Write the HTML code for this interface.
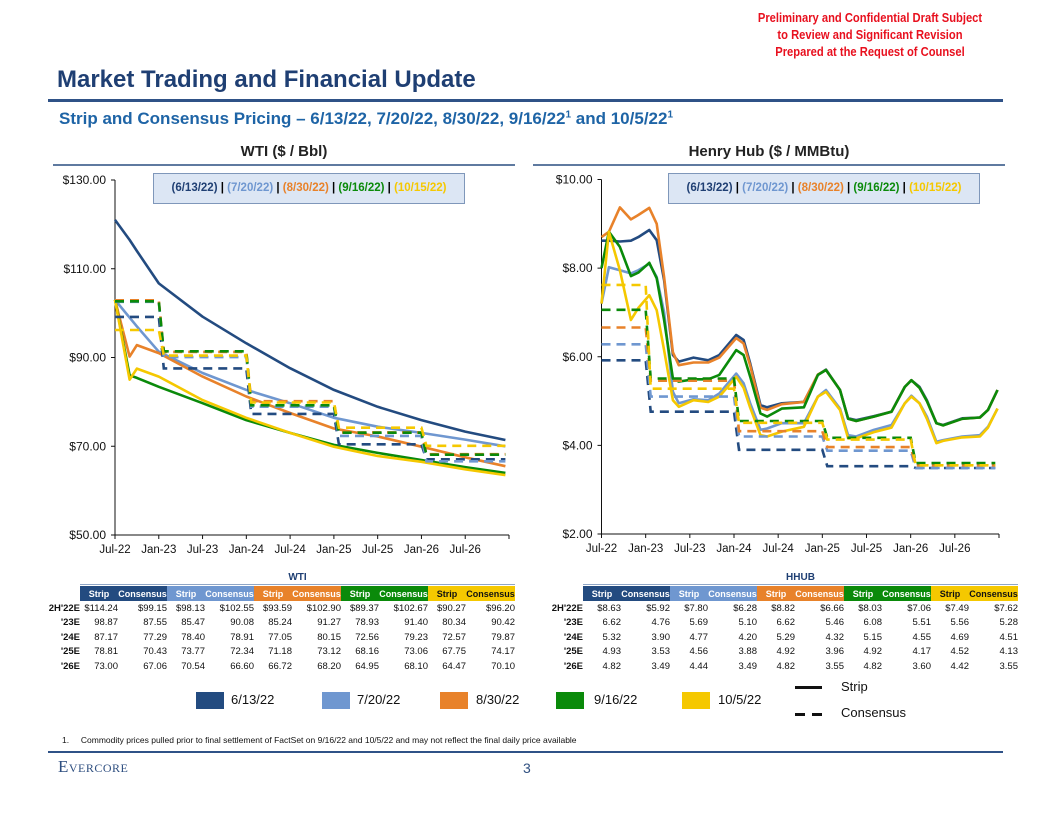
<!DOCTYPE html>
<html><head><meta charset="utf-8"><style>
body{margin:0;width:1056px;height:816px;background:#fff;position:relative;overflow:hidden;font-family:"Liberation Sans",Arial,sans-serif}
.abs{position:absolute}
.red{color:#E8101E;font-weight:bold;font-size:13px;text-align:center;width:340px;left:700px;line-height:17px;top:9px;white-space:nowrap;transform:scaleX(0.86);transform-origin:170px 0}
.title{left:57px;top:66px;font-size:24px;font-weight:bold;color:#1F3F73}
.sub{left:59px;top:109px;font-size:17px;font-weight:bold;color:#1E64A6}
.ct{font-size:15px;font-weight:bold;color:#222;text-align:center}
table{border-collapse:collapse;font-size:9.5px;color:#111;table-layout:fixed}
td{padding:0;height:14.5px;text-align:right;overflow:hidden;white-space:nowrap}
th{font-weight:bold;color:#fff;height:15px;padding:0;font-size:9px;white-space:nowrap;overflow:hidden}
.lbl{text-align:right;font-weight:bold}
.tt{font-size:10px;font-weight:bold;color:#1F3F73;text-align:center}
.leg{font-size:13px;color:#111}
</style></head><body>
<div class="abs red">Preliminary and Confidential Draft Subject<br>to Review and Significant Revision<br>Prepared at the Request of Counsel</div>
<div class="abs title">Market Trading and Financial Update</div>
<div class="abs" style="left:48px;top:99px;width:955px;height:3px;background:#2F5287"></div>
<div class="abs sub">Strip and Consensus Pricing – 6/13/22, 7/20/22, 8/30/22, 9/16/22<sup style="font-size:10px">1</sup> and 10/5/22<sup style="font-size:10px">1</sup></div>
<div class="abs ct" style="left:53px;width:462px;top:143px">WTI ($ / Bbl)</div>
<div class="abs" style="left:53px;top:164px;width:462px;height:2px;background:#5F7AA0"></div>
<div class="abs ct" style="left:533px;width:472px;top:143px">Henry Hub ($ / MMBtu)</div>
<div class="abs" style="left:533px;top:164px;width:472px;height:2px;background:#5F7AA0"></div>

<svg class="abs" style="left:0;top:0" width="1056" height="816" id="charts">
<g id="wti"></g>
<g id="hh"></g>
</svg>

<div class="abs" style="left:153px;top:173px;width:310px;height:29px;background:#DCE6F4;border:1px solid #7F97BA;font-size:11.5px;font-weight:bold;text-align:center;line-height:29px"><span style="color:#1F3F73">(6/13/22)</span> | <span style="color:#6F97D0">(7/20/22)</span> | <span style="color:#E8822A">(8/30/22)</span> | <span style="color:#0A8A0A">(9/16/22)</span> | <span style="color:#F5C800">(10/15/22)</span></div>
<div class="abs" style="left:668px;top:173px;width:310px;height:29px;background:#DCE6F4;border:1px solid #7F97BA;font-size:11.5px;font-weight:bold;text-align:center;line-height:29px"><span style="color:#1F3F73">(6/13/22)</span> | <span style="color:#6F97D0">(7/20/22)</span> | <span style="color:#E8822A">(8/30/22)</span> | <span style="color:#0A8A0A">(9/16/22)</span> | <span style="color:#F5C800">(10/15/22)</span></div>

<div class="abs tt" style="left:80px;width:435px;top:572px">WTI</div>
<div class="abs" style="left:80px;top:584px;width:435px;height:1px;background:#8FA6C6"></div>
<table class="abs" style="left:42px;top:586px;width:473px">
<colgroup><col style="width:38px"><col style="width:38px"><col style="width:49px"><col style="width:38px"><col style="width:49px"><col style="width:38px"><col style="width:49px"><col style="width:38px"><col style="width:49px"><col style="width:38px"><col style="width:49px"></colgroup>
<tr><th></th><th style="background:#234B80">Strip</th><th style="background:#234B80">Consensus</th><th style="background:#6F97D0">Strip</th><th style="background:#6F97D0">Consensus</th><th style="background:#E8822A">Strip</th><th style="background:#E8822A">Consensus</th><th style="background:#0A8A0A">Strip</th><th style="background:#0A8A0A">Consensus</th><th style="background:#F5C800;color:#111">Strip</th><th style="background:#F5C800;color:#111">Consensus</th></tr>
<tr><td class="lbl">2H'22E</td><td>$114.24</td><td>$99.15</td><td>$98.13</td><td>$102.55</td><td>$93.59</td><td>$102.90</td><td>$89.37</td><td>$102.67</td><td>$90.27</td><td>$96.20</td></tr>
<tr><td class="lbl">'23E</td><td>98.87</td><td>87.55</td><td>85.47</td><td>90.08</td><td>85.24</td><td>91.27</td><td>78.93</td><td>91.40</td><td>80.34</td><td>90.42</td></tr>
<tr><td class="lbl">'24E</td><td>87.17</td><td>77.29</td><td>78.40</td><td>78.91</td><td>77.05</td><td>80.15</td><td>72.56</td><td>79.23</td><td>72.57</td><td>79.87</td></tr>
<tr><td class="lbl">'25E</td><td>78.81</td><td>70.43</td><td>73.77</td><td>72.34</td><td>71.18</td><td>73.12</td><td>68.16</td><td>73.06</td><td>67.75</td><td>74.17</td></tr>
<tr><td class="lbl">'26E</td><td>73.00</td><td>67.06</td><td>70.54</td><td>66.60</td><td>66.72</td><td>68.20</td><td>64.95</td><td>68.10</td><td>64.47</td><td>70.10</td></tr>
</table>

<div class="abs tt" style="left:583px;width:435px;top:572px">HHUB</div>
<div class="abs" style="left:583px;top:584px;width:435px;height:1px;background:#8FA6C6"></div>
<table class="abs" style="left:545px;top:586px;width:473px">
<colgroup><col style="width:38px"><col style="width:38px"><col style="width:49px"><col style="width:38px"><col style="width:49px"><col style="width:38px"><col style="width:49px"><col style="width:38px"><col style="width:49px"><col style="width:38px"><col style="width:49px"></colgroup>
<tr><th></th><th style="background:#234B80">Strip</th><th style="background:#234B80">Consensus</th><th style="background:#6F97D0">Strip</th><th style="background:#6F97D0">Consensus</th><th style="background:#E8822A">Strip</th><th style="background:#E8822A">Consensus</th><th style="background:#0A8A0A">Strip</th><th style="background:#0A8A0A">Consensus</th><th style="background:#F5C800;color:#111">Strip</th><th style="background:#F5C800;color:#111">Consensus</th></tr>
<tr><td class="lbl">2H'22E</td><td>$8.63</td><td>$5.92</td><td>$7.80</td><td>$6.28</td><td>$8.82</td><td>$6.66</td><td>$8.03</td><td>$7.06</td><td>$7.49</td><td>$7.62</td></tr>
<tr><td class="lbl">'23E</td><td>6.62</td><td>4.76</td><td>5.69</td><td>5.10</td><td>6.62</td><td>5.46</td><td>6.08</td><td>5.51</td><td>5.56</td><td>5.28</td></tr>
<tr><td class="lbl">'24E</td><td>5.32</td><td>3.90</td><td>4.77</td><td>4.20</td><td>5.29</td><td>4.32</td><td>5.15</td><td>4.55</td><td>4.69</td><td>4.51</td></tr>
<tr><td class="lbl">'25E</td><td>4.93</td><td>3.53</td><td>4.56</td><td>3.88</td><td>4.92</td><td>3.96</td><td>4.92</td><td>4.17</td><td>4.52</td><td>4.13</td></tr>
<tr><td class="lbl">'26E</td><td>4.82</td><td>3.49</td><td>4.44</td><td>3.49</td><td>4.82</td><td>3.55</td><td>4.82</td><td>3.60</td><td>4.42</td><td>3.55</td></tr>
</table>

<div class="abs" style="left:196px;top:692px;width:28px;height:17px;background:#234B80"></div>
<div class="abs leg" style="left:231px;top:692px">6/13/22</div>
<div class="abs" style="left:322px;top:692px;width:28px;height:17px;background:#6F97D0"></div>
<div class="abs leg" style="left:357px;top:692px">7/20/22</div>
<div class="abs" style="left:440px;top:692px;width:28px;height:17px;background:#E8822A"></div>
<div class="abs leg" style="left:476px;top:692px">8/30/22</div>
<div class="abs" style="left:556px;top:692px;width:28px;height:17px;background:#0A8A0A"></div>
<div class="abs leg" style="left:594px;top:692px">9/16/22</div>
<div class="abs" style="left:682px;top:692px;width:28px;height:17px;background:#F5C800"></div>
<div class="abs leg" style="left:718px;top:692px">10/5/22</div>
<div class="abs" style="left:795px;top:686px;width:27px;height:3px;background:#111"></div>
<div class="abs leg" style="left:841px;top:679px">Strip</div>
<div class="abs" style="left:795px;top:713px;width:10px;height:3px;background:#111"></div>
<div class="abs" style="left:812px;top:713px;width:10px;height:3px;background:#111"></div>
<div class="abs leg" style="left:841px;top:705px">Consensus</div>

<div class="abs" style="left:62px;top:735px;font-size:8.5px;color:#111">1.&nbsp;&nbsp;&nbsp;&nbsp;&nbsp;Commodity prices pulled prior to final settlement of FactSet on 9/16/22 and 10/5/22 and may not reflect the final daily price available</div>
<div class="abs" style="left:48px;top:751px;width:955px;height:2px;background:#2F5287"></div>
<div class="abs" style="left:58px;top:757px;font-family:'Liberation Serif',serif;font-size:17px;color:#2F4F80;font-variant:small-caps;letter-spacing:.5px">Evercore</div>
<div class="abs" style="left:523px;top:760px;font-size:14px;color:#2F4F80">3</div>

<script>
// ---- WTI data ----
const wtiMonths = [0,2,3,6,12,18,24,30,36,42,48,53.5];
const wtiStrip0613 = [121,116.5,114,106.7,99.2,93.2,87.6,82.7,78.9,75.9,73.3,71.4];
const wtiStrip0720 = [103,99,97,91.3,86.5,82.7,79.7,76.4,74.4,73,71.5,70];
const wtiStrip0830 = [103,90.2,92.8,91,85.7,81.2,77.5,74,72.2,69.9,67.5,65.5];
const wtiStrip0916 = [103,86,85.4,83.4,79.7,75.9,73,70.3,68.5,66.9,65.3,64];
const wtiStrip1005 = [103,85,87.5,85.7,80.4,76.4,73,69.9,67.8,66.5,64.8,63.5];
const wtiCons0613 = [99.15,87.55,77.29,70.43,67.06];
const wtiCons0720 = [102.55,90.08,78.91,72.34,66.60];
const wtiCons0830 = [102.90,91.27,80.15,73.12,68.20];
const wtiCons0916 = [102.67,91.40,79.23,73.06,68.10];
const wtiCons1005 = [96.20,90.42,79.87,74.17,70.10];
const wtiTicks = ["$50.00","$70.00","$90.00","$110.00","$130.00"];
const wtiTickVals = [50,70,90,110,130];
// ---- Henry Hub data ----
const hhMonths = [0,1,2.5,4,5,6.5,7.5,8.5,9.7,10.5,12.5,14.5,16,18.3,19.3,20.2,21.6,22.5,24.5,27.5,29.4,30.5,32.4,33.5,34.6,37,39.4,41.2,42.1,43.2,44.2,45.5,46.4,49,51.4,52.5,53.8];
const hhStrip0613 = [8.62,8.62,8.6,8.62,8.7,8.86,8.63,7.73,6.04,5.89,5.98,5.92,6.04,6.49,6.38,5.85,4.91,4.86,4.95,4.98,5.59,5.71,5.25,4.61,4.57,4.66,4.76,5.32,5.47,5.32,5.02,4.5,4.46,4.61,4.63,4.8,5.25];
const hhStrip0720 = [7.2,8.02,7.95,7.88,7.95,8.1,7.8,7.0,5.21,4.95,5.04,5.02,5.17,5.62,5.4,4.95,4.35,4.38,4.5,4.5,5.1,5.25,4.83,4.23,4.2,4.35,4.46,4.95,5.12,4.95,4.65,4.08,4.12,4.2,4.23,4.42,4.83];
const hhStrip0830 = [8.7,8.82,9.37,9.1,9.2,9.36,9.0,7.8,6.1,5.81,5.87,5.87,5.98,6.42,6.3,5.8,4.85,4.8,4.93,4.98,5.6,5.7,5.25,4.6,4.55,4.65,4.76,5.32,5.47,5.3,5.0,4.5,4.45,4.6,4.63,4.8,5.25];
const hhStrip0916 = [8.0,8.82,8.48,7.82,7.9,8.12,7.77,6.83,5.51,5.44,5.49,5.49,5.59,6.15,6.04,5.55,4.72,4.65,4.83,4.86,5.59,5.7,5.25,4.6,4.55,4.65,4.76,5.32,5.47,5.3,5.0,4.5,4.45,4.6,4.63,4.8,5.25];
const hhStrip1005 = [7.2,8.82,7.95,6.83,7.1,7.39,7.05,6.15,5.02,4.87,5.02,4.98,5.1,5.55,5.3,4.85,4.23,4.2,4.31,4.42,5.1,5.21,4.8,4.16,4.16,4.3,4.4,4.95,5.1,4.95,4.6,4.05,4.1,4.18,4.2,4.4,4.83];
const hhCons0613 = [5.92,4.76,3.90,3.53,3.49];
const hhCons0720 = [6.28,5.10,4.20,3.88,3.49];
const hhCons0830 = [6.66,5.46,4.32,3.96,3.55];
const hhCons0916 = [7.06,5.51,4.55,4.17,3.60];
const hhCons1005 = [7.62,5.28,4.51,4.13,3.55];
const hhTicks = ["$2.00","$4.00","$6.00","$8.00","$10.00"];
const hhTickVals = [2,4,6,8,10];
const periodBounds = [0,6,18,30,42,53.5];
const xLabels = ["Jul-22","Jan-23","Jul-23","Jan-24","Jul-24","Jan-25","Jul-25","Jan-26","Jul-26"];
const colors = ["#234B80","#6F97D0","#E8822A","#0A8A0A","#F5C800"];
const names = ["0613","0720","0830","0916","1005"];

const NS="http://www.w3.org/2000/svg";
function mk(parent,tag,attrs){const e=document.createElementNS(NS,tag);for(const k in attrs)e.setAttribute(k,attrs[k]);parent.appendChild(e);return e;}

function drawChart(g,cfg){
  const {x0,x1,yTop,yBot,vMin,vMax,months,strips,cons,ticks,tickVals,prefix}=cfg;
  const xs=m=>x0+m*(x1-x0)/54;
  const ys=v=>yBot-(v-vMin)*(yBot-yTop)/(vMax-vMin);
  const ax=mk(g,'line',{x1:x0,y1:yTop,x2:x0,y2:yBot,stroke:'#111','stroke-width':1});
  
  
  const bx=mk(g,'line',{x1:x0,y1:yBot,x2:x1,y2:yBot,stroke:'#111','stroke-width':1});
  
  
  tickVals.forEach((v,i)=>{
    mk(g,'line',{x1:x0-4,y1:ys(v),x2:x0,y2:ys(v),stroke:'#111'});
    const t=mk(g,'text',{x:x0-9,y:ys(v)+4,'text-anchor':'end','font-size':12,fill:'#111','font-family':'Liberation Sans, sans-serif'});
    t.textContent=ticks[i];
    
    
  });
  for(let i=0;i<=9;i++){const xx=xs(i*6);mk(g,'line',{x1:xx,y1:yBot,x2:xx,y2:yBot+4,stroke:'#111'});}
  xLabels.forEach((l,i)=>{
    const t=mk(g,'text',{x:xs(i*6),y:yBot+18,'text-anchor':'middle','font-size':11.5,fill:'#111','font-family':'Liberation Sans, sans-serif'});
    t.textContent=l;
    
    
  });
  strips.forEach((s,k)=>{
    const d=s.map((v,i)=>(i?'L':'M')+xs(months[i]).toFixed(1)+' '+ys(v).toFixed(1)).join(' ');
    const p=mk(g,'path',{d:d,fill:'none',stroke:colors[k],'stroke-width':2.6,'stroke-linejoin':'round'});
    
    
  });
  cons.forEach((c,k)=>{
    let d='M'+xs(periodBounds[0])+' '+ys(c[0]);
    c.forEach((v,i)=>{
      if(i>0) d+=' L'+(xs(periodBounds[i])+5).toFixed(1)+' '+ys(v).toFixed(1);
      d+=' L'+xs(periodBounds[i+1]).toFixed(1)+' '+ys(v).toFixed(1);
    });
    const p=mk(g,'path',{d:d,fill:'none',stroke:colors[k],'stroke-width':2.6,'stroke-dasharray':'9 6'});
    
    
  });
}
drawChart(document.getElementById('wti'),{x0:115,x1:509,yTop:180,yBot:535,vMin:50,vMax:130,months:wtiMonths,
  strips:[wtiStrip0613,wtiStrip0720,wtiStrip0830,wtiStrip0916,wtiStrip1005],
  cons:[wtiCons0613,wtiCons0720,wtiCons0830,wtiCons0916,wtiCons1005],ticks:wtiTicks,tickVals:wtiTickVals,prefix:'wti'});
drawChart(document.getElementById('hh'),{x0:601.5,x1:999,yTop:179.5,yBot:534,vMin:2,vMax:10,months:hhMonths,
  strips:[hhStrip0613,hhStrip0720,hhStrip0830,hhStrip0916,hhStrip1005],
  cons:[hhCons0613,hhCons0720,hhCons0830,hhCons0916,hhCons1005],ticks:hhTicks,tickVals:hhTickVals,prefix:'hh'});
</script>
</body></html>
